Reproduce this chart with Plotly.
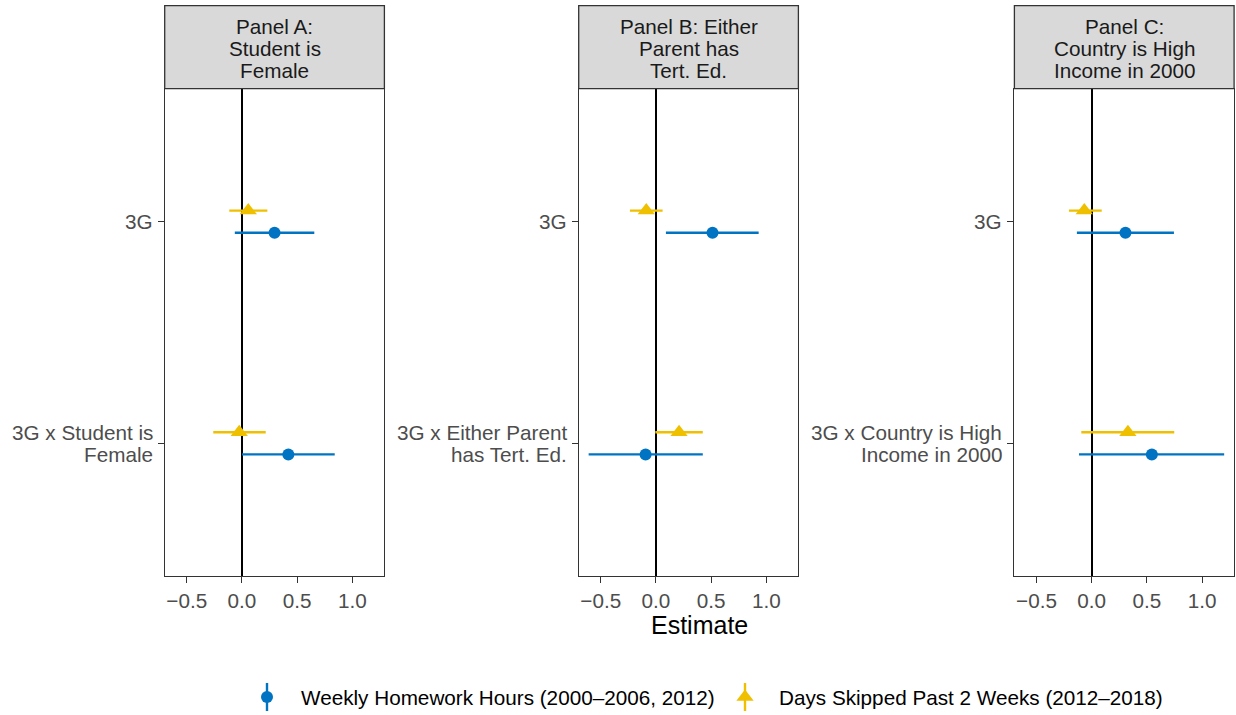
import plotly.graph_objects as go

# ---- data -------------------------------------------------------------
panel_titles = [
    ["Panel A:", "Student is", "Female"],
    ["Panel B: Either", "Parent has", "Tert. Ed."],
    ["Panel C:", "Country is High", "Income in 2000"],
]
# term labels per panel: [3G, interaction], each a list of text lines
term_labels = [
    [["3G"], ["3G x Student is", "Female"]],
    [["3G"], ["3G x Either Parent", "has Tert. Ed."]],
    [["3G"], ["3G x Country is High", "Income in 2000"]],
]
x_tick_vals = [-0.5, 0.0, 0.5, 1.0]
x_tick_text = ["\u22120.5", "0.0", "0.5", "1.0"]

series_names = ["Weekly Homework Hours (2000\u20132006, 2012)",
                "Days Skipped Past 2 Weeks (2012\u20132018)"]

# rows = panels A, B, C; columns = [3G, interaction]
hw_est = [[0.295, 0.420], [0.512, -0.094], [0.306, 0.545]]
hw_lo = [[-0.065, 0.000], [0.090, -0.610], [-0.134, -0.115]]
hw_hi = [[0.655, 0.840], [0.930, 0.424], [0.745, 1.200]]

sk_est = [[0.057, -0.025], [-0.088, 0.209], [-0.067, 0.328]]
sk_lo = [[-0.115, -0.260], [-0.236, -0.006], [-0.206, -0.094]]
sk_hi = [[0.230, 0.215], [0.060, 0.424], [0.091, 0.748]]

# ---- styling ----------------------------------------------------------
W, H = 1236, 715
FONT = "Liberation Sans, Arial, sans-serif"
FS = 20.7
BLUE = "#0073C2"
YELLOW = "#EFC000"
DARK = "#333333"
term_pos = [2, 1]          # 3G on top, interaction below
dodge = 0.05

panel_left = [164.7, 578.7, 1014.4]
panel_w = 219.7
panel_top, panel_bottom = 88.7, 576.3
strip_top = 5.7


def px_x(v):
    return v / W


def px_y(v):
    return 1 - v / H


fig = go.Figure()
annotations = []
shapes = []

for i in range(3):
    xa = "x" if i == 0 else f"x{i + 1}"
    ya = "y" if i == 0 else f"y{i + 1}"

    for est, lo, hi, col, sym, size, off in [
        (hw_est[i], hw_lo[i], hw_hi[i], BLUE, "circle", 12, -dodge),
        (sk_est[i], sk_lo[i], sk_hi[i], YELLOW, "triangle-up", 15, dodge),
    ]:
        fig.add_trace(go.Scatter(
            x=est,
            y=[p + off for p in term_pos],
            xaxis=xa, yaxis=ya,
            mode="markers",
            marker=dict(symbol=sym, size=size, color=col, line=dict(width=0)),
            error_x=dict(type="data", symmetric=False,
                         array=[h - e for h, e in zip(hi, est)],
                         arrayminus=[e - l for e, l in zip(est, lo)],
                         width=0, thickness=2.4, color=col),
            showlegend=False, hoverinfo="x+y",
        ))

    left = panel_left[i]
    dom_x = [px_x(left), px_x(left + panel_w)]
    dom_y = [px_y(panel_bottom), px_y(panel_top)]
    sfx = "" if i == 0 else str(i + 1)
    fig.layout["xaxis" + sfx] = dict(
        domain=dom_x, anchor=ya, range=[-0.70, 1.29],
        tickvals=x_tick_vals, ticktext=x_tick_text,
        ticks="outside", ticklen=6, tickwidth=1.3, tickcolor=DARK,
        tickfont=dict(family=FONT, size=FS, color="#4D4D4D"),
        showline=True, mirror=True, linecolor=DARK, linewidth=1.3,
        showgrid=False, zeroline=True, zerolinecolor="black",
        zerolinewidth=1.8,
    )
    fig.layout["yaxis" + sfx] = dict(
        domain=dom_y, anchor=xa, range=[0.4, 2.6],
        tickvals=term_pos, showticklabels=False,
        ticks="outside", ticklen=6, tickwidth=1.3, tickcolor=DARK,
        showline=True, mirror=True, linecolor=DARK, linewidth=1.3,
        showgrid=False, zeroline=False,
    )

    # strip header
    shapes.append(dict(type="rect", xref="paper", yref="paper",
                       x0=dom_x[0], x1=dom_x[1],
                       y0=px_y(panel_top), y1=px_y(strip_top),
                       fillcolor="#D9D9D9", line=dict(color=DARK, width=1.3)))
    for k, line in enumerate(panel_titles[i]):
        annotations.append(dict(
            text=line, xref="paper", yref="paper",
            x=px_x(left + panel_w / 2), y=px_y(26.7 + 21.7 * k),
            xanchor="center", yanchor="middle", showarrow=False,
            font=dict(family=FONT, size=FS, color="#1A1A1A")))

    # term labels to the left of each panel
    for t, lines in enumerate(term_labels[i]):
        n = len(lines)
        for k, line in enumerate(lines):
            annotations.append(dict(
                text=line, xref="paper", yref=ya,
                x=px_x(left), y=term_pos[t],
                xanchor="right", yanchor="middle", xshift=-10,
                yshift=-(k - (n - 1) / 2) * 22, showarrow=False,
                font=dict(family=FONT, size=FS, color="#4D4D4D")))

# axis title across the panel row
annotations.append(dict(
    text="Estimate", xref="paper", yref="paper",
    x=px_x((panel_left[0] + panel_left[2] + panel_w) / 2), y=px_y(625),
    xanchor="center", yanchor="middle", showarrow=False,
    font=dict(family=FONT, size=25, color="black")))

# legend keys drawn on a full-figure pixel overlay
key_x = [267, 745]
key_y = 697
for kx, col, sym, size, name in [
    (key_x[0], BLUE, "circle", 12, series_names[0]),
    (key_x[1], YELLOW, "triangle-up", 15, series_names[1]),
]:
    fig.add_trace(go.Scatter(
        x=[kx], y=[key_y], xaxis="x4", yaxis="y4", mode="markers",
        marker=dict(symbol=sym, size=size, color=col, line=dict(width=0)),
        error_y=dict(type="constant", value=14, width=0, thickness=2.4,
                     color=col),
        showlegend=False, hoverinfo="skip", cliponaxis=False,
    ))
    annotations.append(dict(
        text=name, xref="paper", yref="paper",
        x=px_x(kx + 32), y=px_y(key_y), xanchor="left", yanchor="middle",
        showarrow=False, font=dict(family=FONT, size=FS, color="black")))

fig.layout["xaxis4"] = dict(domain=[0, 1], range=[0, W], visible=False,
                            anchor="y4", fixedrange=True)
fig.layout["yaxis4"] = dict(domain=[0, 1], range=[H, 0], visible=False,
                            anchor="x4", fixedrange=True)

# transparent plot areas so the full-figure key overlay does not hide panels
fig.update_layout(
    width=W, height=H,
    margin=dict(l=0, r=0, t=0, b=0),
    paper_bgcolor="white", plot_bgcolor="rgba(0,0,0,0)",
    showlegend=False,
    annotations=annotations, shapes=shapes,
    font=dict(family=FONT),
)

fig.write_html("out.html")
